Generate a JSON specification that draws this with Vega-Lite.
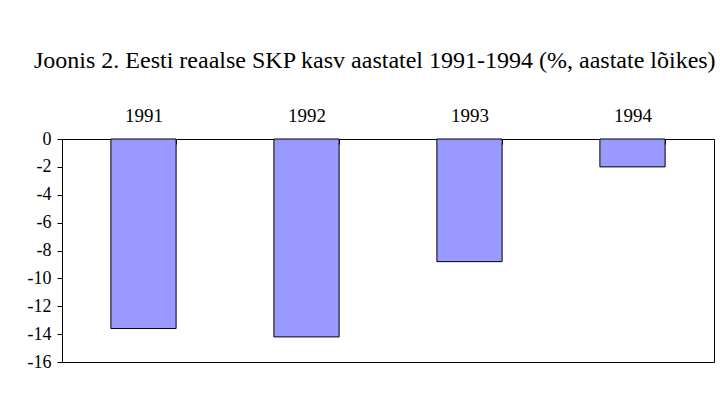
{
  "$schema": "https://vega.github.io/schema/vega-lite/v6.json",
  "autosize": "none",
  "width": 652,
  "height": 223,
  "padding": {"left": 62, "top": 139, "right": 6, "bottom": 52},
  "background": "white",
  "title": {
    "text": "Joonis 2. Eesti reaalse SKP kasv aastatel 1991-1994 (%, aastate lõikes)",
    "anchor": "start",
    "frame": "group",
    "dx": -28,
    "offset": 33,
    "font": "Liberation Serif",
    "fontSize": 24,
    "fontWeight": "normal",
    "color": "black"
  },
  "data": {
    "values": [
      {"year": "1991", "growth": -13.6},
      {"year": "1992", "growth": -14.2},
      {"year": "1993", "growth": -8.8},
      {"year": "1994", "growth": -2.0}
    ]
  },
  "mark": {"type": "bar", "color": "#9999FF", "stroke": "black", "strokeWidth": 1},
  "encoding": {
    "x": {
      "field": "year",
      "type": "nominal",
      "scale": {"paddingInner": 0.6, "paddingOuter": 0.3},
      "axis": {
        "orient": "top",
        "title": null,
        "labelAngle": 0,
        "tickBand": "extent",
        "tickSize": -5,
        "labelPadding": 19,
        "domainColor": "black",
        "tickColor": "black",
        "labelFont": "Liberation Serif",
        "labelFontSize": 19,
        "labelColor": "black"
      }
    },
    "y": {
      "field": "growth",
      "type": "quantitative",
      "scale": {"domain": [-16, 0], "nice": false},
      "axis": {
        "title": null,
        "values": [0, -2, -4, -6, -8, -10, -12, -14, -16],
        "labelExpr": "replace(datum.label, '\u2212', '-')",
        "grid": false,
        "tickSize": 5,
        "labelPadding": 6,
        "domainColor": "black",
        "tickColor": "black",
        "labelFont": "Liberation Serif",
        "labelFontSize": 18,
        "labelColor": "black"
      }
    }
  },
  "config": {
    "view": {"stroke": "black", "strokeWidth": 1}
  }
}
